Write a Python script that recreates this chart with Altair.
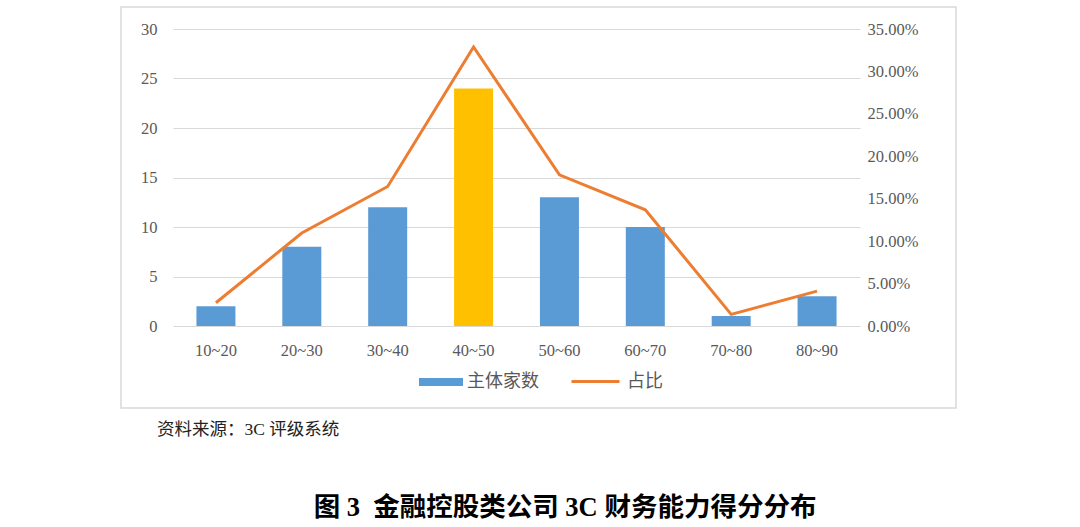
import altair as alt
import pandas as pd

categories = ["10~20", "20~30", "30~40", "40~50", "50~60", "60~70", "70~80", "80~90"]
counts = [2, 8, 12, 24, 13, 10, 1, 3]
shares = [0.0274, 0.1096, 0.1644, 0.3288, 0.1781, 0.1370, 0.0137, 0.0411]
highlight = "40~50"

bar_name = "主体家数"
line_name = "占比"
source_text = "资料来源：3C 评级系统"
title_text = "图 3\u00a0\u00a0金融控股类公司 3C 财务能力得分分布"

BLUE = "#5B9BD5"
ORANGE = "#ED7D31"
YELLOW = "#FFC000"
GRAY = "#595959"
FONT = "Liberation Serif, Noto Sans CJK SC"

df = pd.DataFrame({
    "cat": categories,
    "count": counts,
    "share": shares,
    "s": [bar_name] * len(categories),
    "s2": [line_name] * len(categories),
})

W, H = 687, 297
LFS = 16.5

xenc = alt.X("cat:N", sort=categories, title=None,
             scale=alt.Scale(paddingInner=0.0, paddingOuter=0.0),
             axis=alt.Axis(labelAngle=0, ticks=False, domain=False,
                           labelPadding=16, labelFontSize=LFS, labelColor=GRAY, labelFont=FONT))

bars = alt.Chart(df).mark_bar(size=39).encode(
    x=xenc,
    y=alt.Y("count:Q", title=None,
            scale=alt.Scale(domain=[0, 30]),
            axis=alt.Axis(orient="left", values=[0, 5, 10, 15, 20, 25, 30], ticks=False, domain=False,
                          grid=True, gridColor="#D9D9D9", labelPadding=16, labelFontSize=LFS,
                          labelColor=GRAY, labelFont=FONT)),
    fill=alt.condition(
        alt.datum.cat == highlight,
        alt.value(YELLOW),
        alt.Fill("s:N", scale=alt.Scale(domain=[bar_name], range=[BLUE]),
                 legend=alt.Legend(title=None, orient="none", legendX=246, legendY=331,
                                   symbolType="M-1,-0.18H1V0.18H-1Z", symbolSize=1936,
                                   symbolStrokeWidth=0, labelFontSize=18, labelColor=GRAY,
                                   labelFont=FONT, labelOffset=4)),
    ),
)

line = alt.Chart(df).mark_line(strokeWidth=3).encode(
    x=alt.X("cat:N", sort=categories),
    y=alt.Y("share:Q", title=None,
            scale=alt.Scale(domain=[0, 0.35]),
            axis=alt.Axis(orient="right", values=[0, 0.05, 0.1, 0.15, 0.2, 0.25, 0.3, 0.35],
                          format=".2%", ticks=False, domain=False, grid=False,
                          labelPadding=7, labelFontSize=LFS, labelColor=GRAY, labelFont=FONT)),
    stroke=alt.Stroke("s2:N", scale=alt.Scale(domain=[line_name], range=[ORANGE]),
                      legend=alt.Legend(title=None, orient="none", legendX=397, legendY=327,
                                        symbolType="stroke", symbolSize=2304, symbolStrokeWidth=3,
                                        labelFontSize=18, labelColor=GRAY, labelFont=FONT,
                                        labelOffset=6)),
)

one = alt.Data(values=[{"a": 1}])

frame = alt.Chart(one).mark_rect(fill=None, stroke="#D9D9D9", strokeWidth=1.5).encode(
    x=alt.value(-52), x2=alt.value(783), y=alt.value(-22), y2=alt.value(379)
)

source = alt.Chart(one).mark_text(
    text=source_text, align="left", baseline="middle", fontSize=17.5, font=FONT, color="#222222"
).encode(x=alt.value(-16), y=alt.value(401))

title = alt.Chart(one).mark_text(
    text=title_text, align="center", baseline="middle", fontSize=26.5, fontWeight="bold",
    font=FONT, color="#000000"
).encode(x=alt.value(392), y=alt.value(479))

chart = alt.layer(bars, line, frame, source, title).resolve_scale(
    y="independent", fill="independent", stroke="independent"
).properties(
    width=W, height=H,
    autosize=alt.AutoSizeParams(type="none"),
    padding={"left": 173, "top": 29, "right": 220, "bottom": 201},
    background="white",
).configure_view(stroke=None)

chart.save("out.html", embed_options={"renderer": "svg", "actions": False})
